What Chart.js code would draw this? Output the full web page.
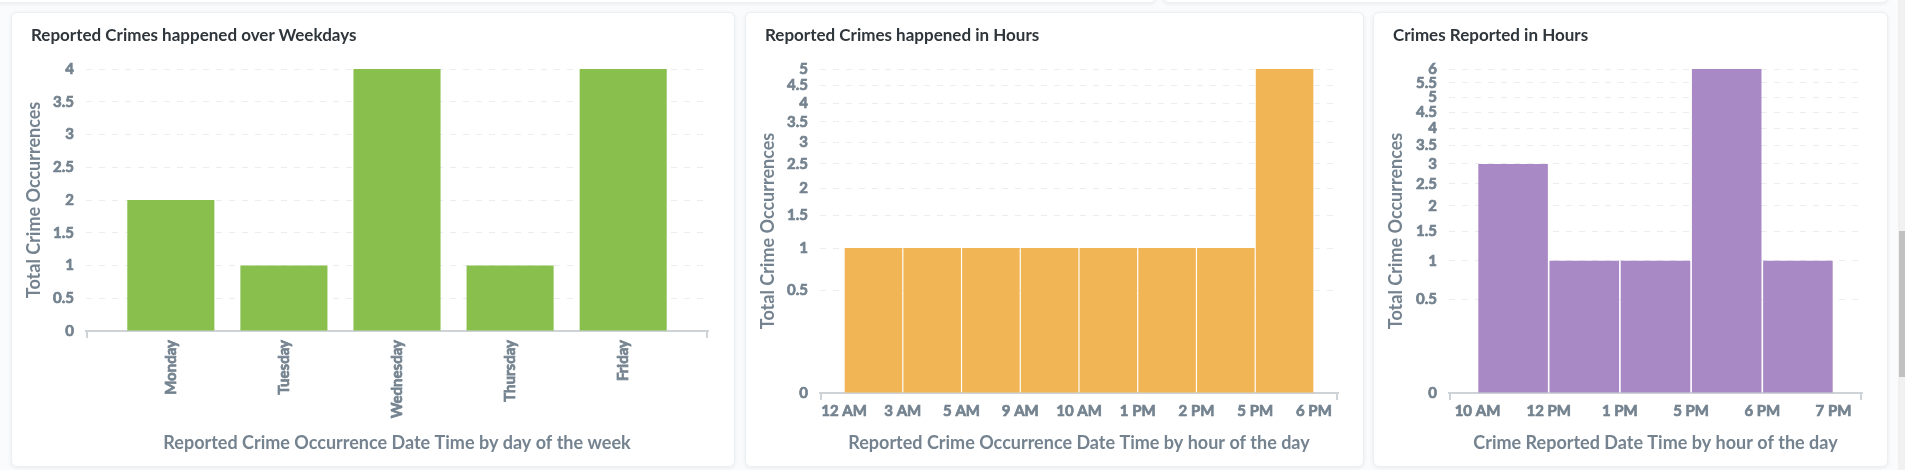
<!DOCTYPE html>
<html>
<head>
<meta charset="utf-8">
<title>Reported crimes</title>
<script src="https://cdn.jsdelivr.net/npm/chart.js@4.4.1/dist/chart.umd.min.js"></script>
<style>
  html, body { margin: 0; padding: 0; }
  body { width: 1905px; height: 470px; overflow: hidden; position: relative; background: #f9fbfc; font-family: Lato, sans-serif; }
  .card { position: absolute; background: #fff; border: 1px solid #edf0f2; border-radius: 6px; box-shadow: 0 1px 4px rgba(0,0,0,0.07); box-sizing: border-box; }
  .title { position: absolute; margin: 0; font: 700 17px/22px Lato, sans-serif; color: #2e353b; white-space: nowrap; }
  .box { position: absolute; }
  #scroll { position: absolute; left: 1898px; top: 0; width: 7px; height: 470px; background: #f1f1f1; }
  #thumb { position: absolute; left: 1px; top: 231px; width: 6px; height: 146px; background: #c1c1c1; }
</style>
</head>
<body>
<div class="card" style="left:-10px; top:-60px; width:1166px; height:63px;"></div>
<div class="card" style="left:1163px; top:-60px; width:725px; height:63px;"></div>

<div class="card" style="left:11px; top:12px; width:724px; height:455px;"></div>
<div class="card" style="left:745px; top:12px; width:619px; height:455px;"></div>
<div class="card" style="left:1373px; top:12px; width:515px; height:455px;"></div>

<div class="box" style="left:11px; top:12px; width:724px; height:455px;"><canvas id="weekdays"></canvas></div>
<div class="box" style="left:745px; top:12px; width:619px; height:455px;"><canvas id="occurred"></canvas></div>
<div class="box" style="left:1373px; top:12px; width:515px; height:455px;"><canvas id="reported"></canvas></div>

<h2 class="title" style="left:31px; top:24px;">Reported Crimes happened over Weekdays</h2>
<h2 class="title" style="left:765px; top:24px;">Reported Crimes happened in Hours</h2>
<h2 class="title" style="left:1393px; top:24px;">Crimes Reported in Hours</h2>

<div id="scroll"><div id="thumb"></div></div>

<script>
// chart data
const weekdays = ["Monday", "Tuesday", "Wednesday", "Thursday", "Friday"];
const weekdayCounts = [2, 1, 4, 1, 4];

const occurredHours = ["12 AM", "3 AM", "5 AM", "9 AM", "10 AM", "1 PM", "2 PM", "5 PM", "6 PM"];
const occurredCounts = [1, 1, 1, 1, 1, 1, 1, 5];

const reportedHours = ["10 AM", "12 PM", "1 PM", "5 PM", "6 PM", "7 PM"];
const reportedCounts = [3, 1, 1, 6, 1];

const GREEN = "#88bf4d";
const ORANGE = "#f1b556";
const PURPLE = "#a989c5";
const TEXT = "#74838f";
const GRID = "#ebeef0";
const AXIS = "#cdd3d7";

// square-root value axis, like the dashboard uses for the hour charts
class SqrtScale extends Chart.LinearScale {
  _sqrtRange() {
    return [Math.sqrt(Math.max(this.min, 0)), Math.sqrt(Math.max(this.max, 0))];
  }
  getPixelForValue(value) {
    const [lo, hi] = this._sqrtRange();
    const v = Math.sqrt(Math.max(+value, 0));
    return this.getPixelForDecimal((v - lo) / (hi - lo));
  }
  getValueForPixel(pixel) {
    const [lo, hi] = this._sqrtRange();
    const s = lo + this.getDecimalForPixel(pixel) * (hi - lo);
    return s * s;
  }
}
SqrtScale.id = "sqrt";
SqrtScale.defaults = Chart.LinearScale.defaults;
Chart.register(SqrtScale);

// little end marks on the x axis line
const axisEnds = {
  id: "axisEnds",
  afterDraw(chart) {
    const s = chart.scales.x;
    const ctx = chart.ctx;
    ctx.save();
    ctx.strokeStyle = AXIS;
    ctx.lineWidth = 2;
    ctx.beginPath();
    [s.left + 1, s.right - 1].forEach(x => {
      ctx.moveTo(x, s.top);
      ctx.lineTo(x, s.top + 7);
    });
    ctx.stroke();
    ctx.restore();
  }
};

const tickFont = { family: "Lato", size: 15, weight: "bold" };
const titleFont = { family: "Lato", size: 18, weight: "bold" };

function barChart(id, o) {
  const points = o.counts.map((y, i) => ({ x: i + o.shift, y: y }));
  const tickText = { color: TEXT, font: tickFont, textStrokeColor: TEXT, textStrokeWidth: 0.7 };
  return new Chart(document.getElementById(id), {
    type: "bar",
    data: {
      datasets: [{
        data: points,
        backgroundColor: o.color,
        barPercentage: o.barPct,
        categoryPercentage: 1
      }]
    },
    plugins: [axisEnds],
    options: {
      responsive: true,
      maintainAspectRatio: false,
      animation: false,
      layout: { padding: { left: 0, top: 57, right: o.right, bottom: 6 } },
      plugins: { legend: { display: false }, tooltip: { enabled: false } },
      scales: {
        x: {
          type: "linear",
          offset: false,
          min: -o.pad,
          max: o.labels.length - 1 + o.pad,
          afterBuildTicks: s => { s.ticks = o.labels.map((_, i) => ({ value: i })); },
          afterFit: s => { s.height = o.xHeight; },
          grid: { display: true, offset: false, drawOnChartArea: false, drawTicks: false },
          border: { display: true, color: AXIS, width: 2 },
          ticks: Object.assign({
            autoSkip: false,
            minRotation: o.rotate,
            maxRotation: o.rotate,
            padding: 9,
            callback: v => o.labels[v]
          }, tickText),
          title: { display: true, text: o.xTitle, color: TEXT, font: titleFont, padding: { top: 0, bottom: 7 } }
        },
        y: {
          type: o.yType,
          min: 0,
          max: o.yMax,
          afterFit: s => { s.width = o.yWidth; },
          grid: { color: GRID, lineWidth: 1, drawTicks: false },
          border: { display: false, dash: [6, 7] },
          ticks: Object.assign({ stepSize: 0.5, autoSkip: false, padding: 12, callback: v => String(v) }, tickText),
          title: { display: true, text: "Total Crime Occurrences", color: TEXT, font: titleFont, padding: { top: 12, bottom: 0 } }
        }
      }
    }
  });
}

barChart("weekdays", {
  labels: weekdays, counts: weekdayCounts, shift: 0, pad: 0.75,
  color: GREEN, barPct: 0.77, rotate: 90, yType: "linear", yMax: 4,
  right: 27, yWidth: 75, xHeight: 130,
  xTitle: "Reported Crime Occurrence Date Time by day of the week"
});

barChart("occurred", {
  labels: occurredHours, counts: occurredCounts, shift: 0.5, pad: 0.41,
  color: ORANGE, barPct: 0.98, rotate: 0, yType: "sqrt", yMax: 5,
  right: 26, yWidth: 75, xHeight: 68,
  xTitle: "Reported Crime Occurrence Date Time by hour of the day"
});

barChart("reported", {
  labels: reportedHours, counts: reportedCounts, shift: 0.5, pad: 0.4,
  color: PURPLE, barPct: 0.977, rotate: 0, yType: "sqrt", yMax: 6,
  right: 26, yWidth: 76, xHeight: 68,
  xTitle: "Crime Reported Date Time by hour of the day"
});
</script>
</body>
</html>
